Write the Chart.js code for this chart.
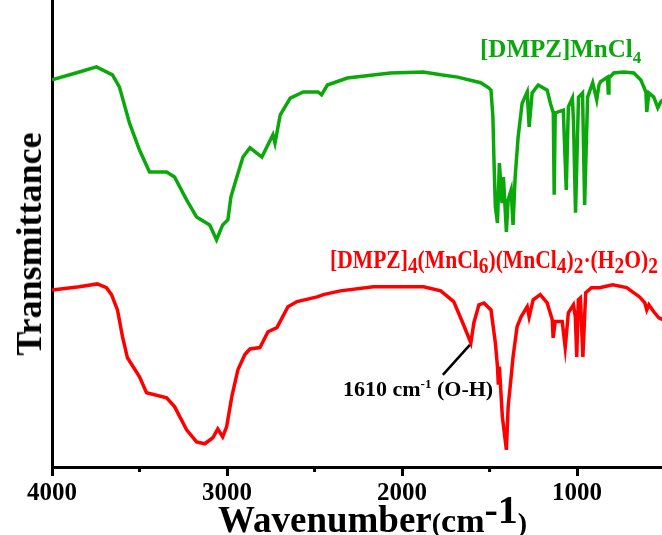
<!DOCTYPE html>
<html><head><meta charset="utf-8">
<script src="https://cdn.jsdelivr.net/npm/chart.js@4/dist/chart.umd.min.js"></script>
<style>
html,body{margin:0;padding:0;background:#fff;}
#wrap{position:relative;width:662px;height:535px;overflow:hidden;font-family:'Liberation Serif','Times New Roman',serif;font-weight:bold;}
canvas{position:absolute;left:0;top:0;}
.lbl{position:absolute;white-space:nowrap;line-height:1;}
.sub{vertical-align:-5px;font-size:0.9em;}
</style></head>
<body>
<div id="wrap">
<canvas id="c" width="662" height="535"></canvas>
<div class="lbl" style="left:480px;top:36px;font-size:25px;color:#0aa80a;">[DMPZ]MnCl<span style="font-size:17px;vertical-align:-6px;">4</span></div>
<div id="redLbl" class="lbl" style="left:330px;top:247px;font-size:25px;color:#ff0000;transform-origin:0 50%;">[DMPZ]<span class="sub">4</span>(MnCl<span class="sub">6</span>)(MnCl<span class="sub">4</span>)<span class="sub">2</span>·(H<span class="sub">2</span>O)<span class="sub">2</span></div>
<div class="lbl" style="left:343px;top:377px;font-size:22px;color:#000;">1610 cm<span style="font-size:13px;vertical-align:8px;">-1</span> (O-H)</div>
<div class="lbl" style="left:218px;top:490px;font-size:37px;color:#000;">Wavenumber<span style="font-size:28px;">(</span><span style="font-size:34px;">cm</span><span style="font-size:40px;vertical-align:9px;">-1</span><span style="font-size:28px;">)</span></div>
<div class="lbl" style="left:29px;top:244px;font-size:36px;color:#000;transform:translate(-50%,-50%) rotate(-90deg);">Transmittance</div>
</div>
<script>
const xTickValues = [4000, 3000, 2000, 1000];
const xMinorTickValues = [3500, 2500, 1500];

const greenWavenumber = [4000,3844,3746,3655,3615,3557,3500,3443,3345,3300,3231,3174,3099,3060,3025,2995,2978,2944,2909,2869,2801,2772,2738,2726,2696,2639,2565,2480,2460,2427,2313,2067,1878,1779,1683,1551,1505,1492,1481,1475,1467,1455,1444,1429,1421,1404,1394,1377,1366,1354,1337,1314,1285,1274,1257,1222,1171,1153,1136,1131,1125,1079,1062,1050,1027,1021,1009,992,969,957,940,911,888,875,866,826,822,818,791,734,676,636,607,602,590,562,539,522,510];
const greenT = [82.8,84.5,85.6,83.9,81.3,73.5,67.7,63.0,63.0,61.9,57.0,53.3,51.6,48.4,51.6,52.7,57.6,61.9,66.2,68.2,66.2,68.4,71.0,69.2,75.3,78.9,80.2,80.2,79.6,81.7,83.2,84.3,84.5,83.9,83.4,82.2,81.1,80.6,74.8,65.6,55.5,52.0,64.9,56.3,61.9,50.1,57.0,59.1,51.6,61.9,70.5,77.8,80.2,72.7,80.0,81.7,80.6,77.8,75.7,58.1,75.7,76.3,59.1,77.0,78.9,74.2,54.2,79.1,80.0,55.9,79.1,82.2,78.5,81.7,82.4,83.4,80.0,83.2,84.3,84.5,84.3,82.8,80.2,75.9,80.0,79.1,76.8,78.1,78.5];

const redWavenumber = [4000,3844,3741,3689,3660,3626,3597,3569,3500,3460,3345,3300,3231,3174,3127,3081,3053,3025,3002,2973,2938,2898,2869,2812,2766,2715,2652,2600,2485,2450,2353,2163,1877,1779,1705,1653,1607,1590,1561,1532,1492,1467,1455,1450,1444,1427,1404,1394,1377,1366,1343,1320,1285,1274,1251,1211,1171,1142,1137,1125,1085,1068,1050,1021,1010,1002,993,981,967,951,918,872,797,717,643,613,602,590,562,533,510];
const redT = [37.6,38.3,38.9,38.1,36.6,33.3,27.5,23.0,18.9,15.5,14.4,12.5,7.5,4.9,4.5,5.8,7.7,6.0,8.2,14.6,20.4,23.7,24.9,25.2,28.6,29.5,34.0,35.1,36.1,36.6,37.4,38.3,38.3,37.4,35.1,30.5,26.2,30.5,34.4,34.8,33.3,26.2,21.1,17.2,21.1,10.3,3.2,12.5,18.9,23.2,29.7,31.8,34.0,31.8,35.5,36.6,34.8,31.2,27.3,30.8,30.8,25.2,32.7,34.4,31.8,23.2,35.5,35.9,23.2,37.0,38.1,38.1,38.7,38.1,36.1,34.8,33.3,34.4,32.9,31.6,31.2];

const annotatedPeak = 1607;

// fit the red label to its width in the reference (x 330..658)
(function () {
  const el = document.getElementById('redLbl');
  const w = el.getBoundingClientRect().width;
  if (w > 0) el.style.transform = 'scaleX(' + (328 / w) + ')';
})();

const toPts = (xs, ys) => xs.map((x, i) => ({x: x, y: ys[i]}));

const extras = {
  id: 'extras',
  afterDraw(chart) {
    const ctx = chart.ctx, xs = chart.scales.x, ys = chart.scales.y;
    ctx.save();
    ctx.strokeStyle = '#000';
    ctx.lineWidth = 3;
    const yb = chart.chartArea.bottom;
    xMinorTickValues.forEach(v => {
      const px = xs.getPixelForValue(v);
      ctx.beginPath(); ctx.moveTo(px, yb); ctx.lineTo(px, yb + 5); ctx.stroke();
    });
    const i = redWavenumber.indexOf(annotatedPeak);
    const px = xs.getPixelForValue(annotatedPeak), py = ys.getPixelForValue(redT[i]);
    ctx.lineWidth = 2.5;
    ctx.beginPath(); ctx.moveTo(px - 1, py + 2); ctx.lineTo(px - 28, py + 32); ctx.stroke();
    ctx.restore();
  }
};

new Chart(document.getElementById('c'), {
  type: 'line',
  data: {
    datasets: [
      {data: toPts(greenWavenumber, greenT), borderColor: '#0aa80a', borderWidth: 3.5, pointRadius: 0, tension: 0, fill: false},
      {data: toPts(redWavenumber, redT), borderColor: '#ff0000', borderWidth: 3.5, pointRadius: 0, tension: 0, fill: false}
    ]
  },
  options: {
    responsive: false,
    animation: false,
    devicePixelRatio: 1,
    layout: {padding: {top: 0, right: 0, left: 0, bottom: 0}},
    plugins: {legend: {display: false}, tooltip: {enabled: false}},
    scales: {
      x: {
        type: 'linear', reverse: true, min: 515, max: 4000,
        afterBuildTicks: s => { s.ticks = xTickValues.map(v => ({value: v})); },
        afterFit: s => { s.height = 68; },
        grid: {display: true, drawOnChartArea: false, drawTicks: true, tickLength: 9, tickWidth: 3, tickColor: '#000'},
        border: {display: true, color: '#000', width: 3},
        ticks: {color: '#000', padding: 3, maxRotation: 0, autoSkip: false,
          callback: v => String(v),
          font: {family: "'Liberation Serif','Times New Roman',serif", weight: 'bold', size: 25}},
        title: {display: false}
      },
      y: {
        min: -0.5, max: 100,
        afterFit: s => { s.width = 52; },
        grid: {display: false},
        border: {display: true, color: '#000', width: 3},
        ticks: {display: false},
        title: {display: false}
      }
    }
  },
  plugins: [extras]
});
</script>
</body></html>
